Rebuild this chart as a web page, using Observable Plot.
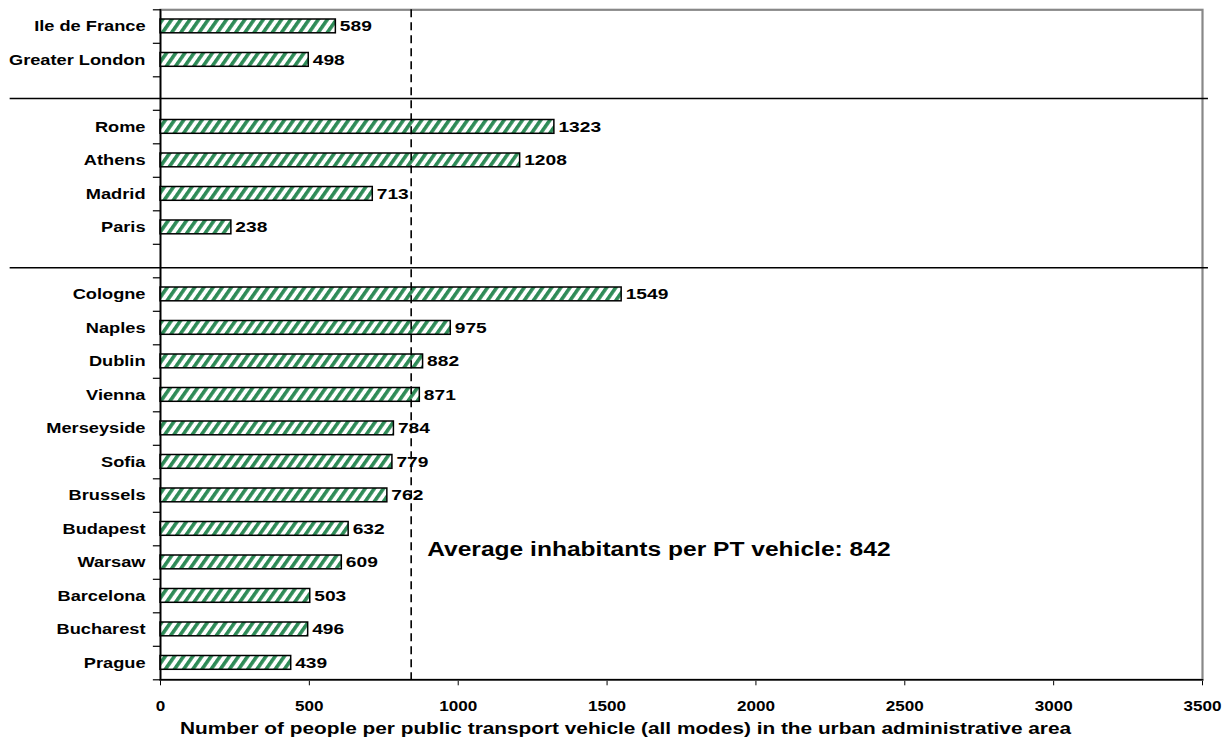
<!DOCTYPE html>
<html>
<head>
<meta charset="utf-8">
<script src="https://cdn.jsdelivr.net/npm/d3@7"></script>
<script src="https://cdn.jsdelivr.net/npm/@observablehq/plot@0.6"></script>
<style>
  html, body { margin: 0; padding: 0; background: #fff; }
</style>
</head>
<body>
<div id="chart"></div>
<script>
// Categories (top to bottom); blank entries are group gaps
const categories = ["Ile de France", "Greater London", " ",
  "Rome", "Athens", "Madrid", "Paris", "  ",
  "Cologne", "Naples", "Dublin", "Vienna", "Merseyside", "Sofia", "Brussels",
  "Budapest", "Warsaw", "Barcelona", "Bucharest", "Prague"];
const cities = ["Ile de France", "Greater London",
  "Rome", "Athens", "Madrid", "Paris",
  "Cologne", "Naples", "Dublin", "Vienna", "Merseyside", "Sofia", "Brussels",
  "Budapest", "Warsaw", "Barcelona", "Bucharest", "Prague"];
const values = [589, 498, 1323, 1208, 713, 238, 1549, 975, 882, 871, 784, 779, 762, 632, 609, 503, 496, 439];
const separator1 = [" "];
const separator2 = ["  "];
const averageValue = 842;
const annotation = [{text: "Average inhabitants per PT vehicle: 842", x: 842, y: "Budapest"}];
const xTicks = [0, 500, 1000, 1500, 2000, 2500, 3000, 3500];
const xTitle = ["Number of people per public transport vehicle (all modes) in the urban administrative area"];

const data = cities.map((c, i) => ({city: c, value: values[i]}));
const lastCat = [categories[categories.length - 1]];
const bandH = (749 - 9.3 - 69.7) / categories.length;

const svg = Plot.plot({
  width: 1229,
  height: 749,
  marginLeft: 160,
  marginRight: 27,
  marginTop: 9.3,
  marginBottom: 69.7,
  style: {fontFamily: "'Liberation Sans', Arial, sans-serif", fontWeight: "bold", fontSize: "14px", background: "#fff", color: "#000"},
  x: {domain: [0, 3500], ticks: xTicks, tickFormat: "d", tickSize: 6, tickPadding: 15.5, label: null},
  y: {domain: categories, padding: 0, round: false, tickSize: 0, tickPadding: 15, label: null},
  marks: [
    Plot.frame({stroke: "#888", strokeWidth: 2.2}),
    // separator lines between groups
    Plot.ruleY(separator1, {y: d => d, x1: -505, x2: 3520, stroke: "#000", strokeWidth: 1.5, dy: 5}),
    Plot.ruleY(separator2, {y: d => d, x1: -505, x2: 3520, stroke: "#000", strokeWidth: 1.5, dy: 6.7}),
    // tick marks at band boundaries
    Plot.ruleY(categories, {y: d => d, x1: -24, x2: 0, stroke: "#000", strokeWidth: 1.2, dy: -bandH / 2}),
    Plot.ruleY(lastCat, {y: d => d, x1: -24, x2: 0, stroke: "#000", strokeWidth: 1.2, dy: bandH / 2}),
    Plot.barX(data, {y: "city", x: "value", fill: "url(#hatch)", stroke: "#000", strokeWidth: 1.5, insetTop: 9.7, insetBottom: 10}),
    Plot.ruleX([averageValue], {stroke: "#000", strokeWidth: 1.6, strokeDasharray: "8,5"}),
    Plot.text(data, {y: "city", x: "value", text: d => String(d.value), dx: 4, textAnchor: "start", fontSize: 15, fontWeight: "bold", fill: "#000"}),
    Plot.text(annotation, {x: "x", y: "y", text: "text", dx: 16, dy: 20.5, textAnchor: "start", fontSize: 19.5, fontWeight: "bold", fill: "#000"}),
    Plot.frame({anchor: "left", stroke: "#000", strokeWidth: 1.6}),
    Plot.frame({anchor: "bottom", stroke: "#000", strokeWidth: 1.6}),
    Plot.text(xTitle, {frameAnchor: "bottom", text: d => d, dx: -56, dy: 54.5, fontSize: 16, fontWeight: "bold", fill: "#000"})
  ]
});

// hatch pattern definition
const ns = "http://www.w3.org/2000/svg";
const defs = document.createElementNS(ns, "defs");
defs.innerHTML = `<pattern id="hatch" patternUnits="userSpaceOnUse" width="7.5" height="7.5" patternTransform="rotate(35)">
  <rect width="7.5" height="7.5" fill="#ffffff"></rect>
  <rect x="0" y="0" width="3.6" height="7.5" fill="#2e8b57"></rect>
</pattern>`;
svg.insertBefore(defs, svg.firstChild);
document.getElementById("chart").appendChild(svg);

// horizontal stretch of the text, as in the reference rendering
function stretchEls(els, factor) {
  els.forEach(t => {
    const len = t.getComputedTextLength();
    if (len > 0) {
      t.setAttribute("textLength", (len * factor).toFixed(1));
      t.setAttribute("lengthAdjust", "spacingAndGlyphs");
    }
  });
}
stretchEls(svg.querySelectorAll('g[aria-label^="y-axis"] text'), 1.3);
stretchEls(svg.querySelectorAll('g[aria-label^="x-axis"] text'), 1.22);
const textGroups = svg.querySelectorAll('g[aria-label="text"]');
// order: value labels, annotation, axis title
if (textGroups[0]) stretchEls(textGroups[0].querySelectorAll("text"), 1.28);
if (textGroups[1]) stretchEls(textGroups[1].querySelectorAll("text"), 1.26);
if (textGroups[2]) stretchEls(textGroups[2].querySelectorAll("text"), 1.3);
</script>
</body>
</html>
